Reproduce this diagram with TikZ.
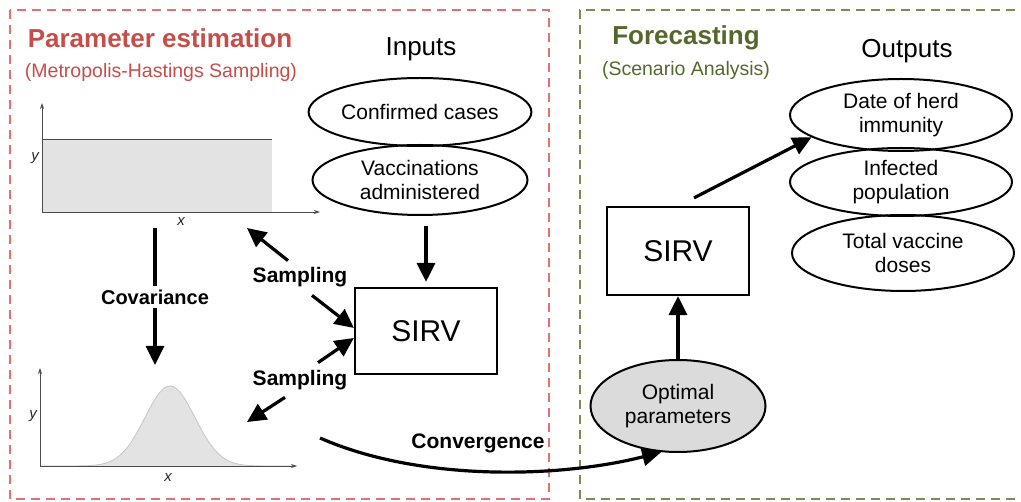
\documentclass[tikz,border=0pt]{standalone}
\usepackage{fontspec}
\setmainfont{Liberation Sans}
\usetikzlibrary{arrows.meta,shapes.geometric,positioning}
\definecolor{estred}{RGB}{196,78,74}
\definecolor{dashred}{RGB}{226,112,110}
\definecolor{forgreen}{RGB}{84,104,44}
\definecolor{dashgreen}{RGB}{122,140,84}
\tikzset{
  bigarrow/.style={line width=3.2pt, -{Triangle[length=19pt,width=18pt]}},
  axisarrow/.style={gray!60!black, line width=0.9pt, -{Stealth[length=6pt,width=4pt]}},
  oval/.style={ellipse, draw, line width=2pt, inner sep=0pt, minimum width=215pt, minimum height=68pt, align=center, font=\fontsize{21}{24}\selectfont},
  model/.style={draw, line width=2.2pt, minimum width=142pt, minimum height=86pt, font=\fontsize{30}{32}\selectfont},
  steplabel/.style={font=\bfseries\fontsize{20}{22}\selectfont},
  frame/.style={dashed, dash pattern=on 9pt off 6pt, line width=1.2pt},
}
\begin{document}
\begin{tikzpicture}[x=1pt, y=-1pt]
    \useasboundingbox (0,0) rectangle (1021,502);
    % two stages
    \draw[frame, dashred] (10,10) rectangle (549,499);
    \draw[frame, dashgreen] (1030,10) -- (580,10) -- (580,499) -- (1030,499);
    \node[estred, font=\bfseries\fontsize{26}{28}\selectfont] (esttitle) at (160,38) {Parameter estimation};
    \node[estred, font=\fontsize{19.5}{22}\selectfont] (estsub) at (161,72) {(Metropolis-Hastings Sampling)};
    \node[forgreen, font=\bfseries\fontsize{26}{28}\selectfont] (fortitle) at (686,38) {Forecasting};
    \node[forgreen, font=\fontsize{19.5}{22}\selectfont] (forsub) at (686,70) {(Scenario Analysis)};
    \node[font=\fontsize{26}{28}\selectfont] (inputs) at (421,49) {Inputs};
    \node[font=\fontsize{26}{28}\selectfont] (outputs) at (907,51) {Outputs};

    % uniform prior
    \fill[gray!22] (42,140) rectangle (272,212);
    \draw[gray!60!black, line width=1pt] (42,140) -- (272,140);
    \draw[axisarrow] (42,212) -- (42,103);
    \draw[axisarrow] (42,212) -- (320,212);
    \node[gray!30!black, font=\itshape\fontsize{15}{16}\selectfont] (ya) at (35,158) {y};
    \node[gray!30!black, font=\itshape\fontsize{15}{16}\selectfont] (xa) at (181,222) {x};

    % gaussian proposal
    \fill[gray!22] plot[domain=42:297, samples=90] (\x, {466-80*exp(-((\x-170)/25)^2/2)}) -- (297,466) -- (42,466) -- cycle;
    \draw[gray!45, line width=0.8pt] plot[domain=42:297, samples=90] (\x, {466-80*exp(-((\x-170)/25)^2/2)});
    \draw[axisarrow] (40,466) -- (40,368);
    \draw[axisarrow] (40,466) -- (297,466);
    \node[gray!30!black, font=\itshape\fontsize{15}{16}\selectfont] (yb) at (33,416) {y};
    \node[gray!30!black, font=\itshape\fontsize{15}{16}\selectfont] (xb) at (168,478) {x};

    \coordinate (unif) at (247,228);
    \coordinate (gauss) at (247,422);
    \coordinate (covtop) at (155,228);
    \coordinate (covbot) at (155,365);
    \coordinate (convstart) at (320,438);

    % model inputs
    \node[oval] (cases) at (420,112) {Confirmed cases};
    \node[oval, minimum height=70pt] (vacc) at (420,180) {Vaccinations\\administered};
    \node[model] (sirv) at (426,331) {SIRV};
    \draw[bigarrow] ([yshift=-10pt]vacc.south -| sirv.north) -- ([yshift=5pt]sirv.north);

    % sampling loop
    \node[steplabel] (covar) at (155,297) {Covariance};
    \draw[line width=3.2pt] (covtop) -- (covar.north);
    \draw[bigarrow] (covar.south) -- (covbot);
    \node[steplabel, font=\bfseries\fontsize{21}{23}\selectfont] (samptop) at (300,277) {Sampling};
    \node[steplabel, font=\bfseries\fontsize{21}{23}\selectfont] (sampbot) at (300,380) {Sampling};
    \draw[bigarrow] ([xshift=-12pt, yshift=3pt]samptop.north) -- (unif);
    \draw[bigarrow] ([xshift=12pt, yshift=-5pt]samptop.south) -- ([yshift=3pt]sirv.west);
    \draw[bigarrow] ([xshift=18pt, yshift=4pt]sampbot.north) -- ([yshift=-7pt]sirv.west);
    \draw[bigarrow] ([xshift=-15pt, yshift=-4pt]sampbot.south) -- (gauss);

    % forecasting
    \node[oval, fill=gray!28, minimum width=175pt, minimum height=92pt] (opt) at (678,406) {Optimal\\parameters};
    \node[steplabel, font=\bfseries\fontsize{21}{23}\selectfont] (conv) at (478,443) {Convergence};
    \draw[bigarrow] (convstart) .. controls (420,482) and (560,478) .. (opt.250);
    \node[model, minimum height=88pt] (sirvf) at (678,251) {SIRV};
    \draw[bigarrow] (opt.north) -- (sirvf.south);
    \node[oval, minimum width=222pt, minimum height=72pt] (herd) at (901,115) {Date of herd\\immunity};
    \node[oval, minimum width=222pt, minimum height=68pt] (infected) at (901,182) {Infected\\population};
    \node[oval, minimum width=222pt, minimum height=76pt] (doses) at (903,253) {Total vaccine\\doses};
    \draw[bigarrow] ([xshift=16pt, yshift=8pt]sirvf.north) -- (herd.194);
\end{tikzpicture}
\end{document}
